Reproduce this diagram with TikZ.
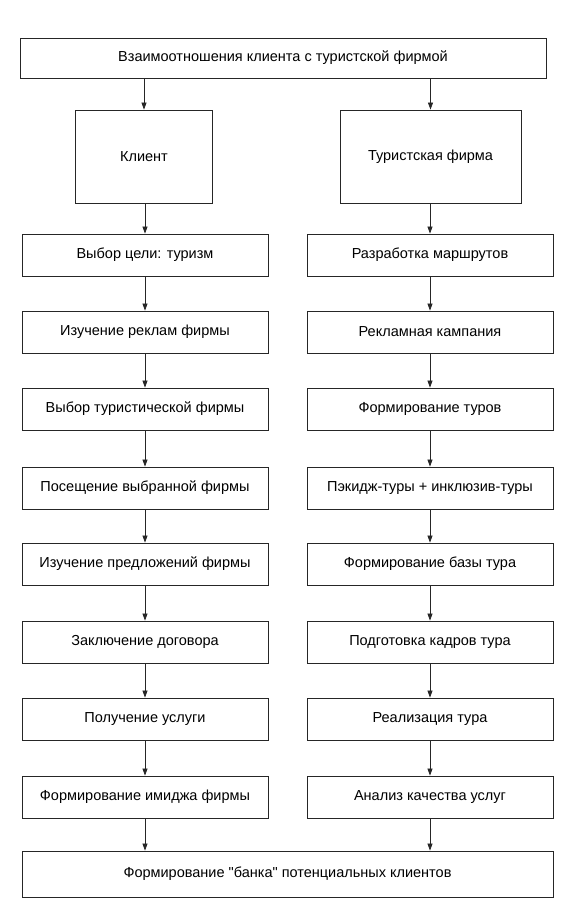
\documentclass[tikz,border=0pt]{standalone}
\usepackage{fontspec}
\setmainfont{Liberation Sans}[Ligatures=TeXOff]
\usetikzlibrary{arrows.meta}
\begin{document}
\begin{tikzpicture}[x=1pt,y=-1pt,
  box/.style={draw=black!85,line width=0.8pt,minimum height=42pt,inner sep=0pt,font=\fontsize{14.5}{17}\selectfont},
  arr/.style={draw=black!85,line width=0.7pt,-{Triangle[length=7pt,width=5pt]}}]
\useasboundingbox (0,0) rectangle (567,912);
\node[box,minimum width=526pt,minimum height=40pt] (top) at (283,58) {Взаимоотношения клиента с туристской фирмой};
\node[box,minimum width=137pt,minimum height=93pt] (kl) at (144,156.5) {Клиент};
\node[box,minimum width=181pt,minimum height=93pt] (tf) at (430.5,156.5) {Туристская фирма};
\foreach \i/\y/\lt/\rt in {
 1/255/{Выбор цели: туризм}/{Разработка маршрутов},
 2/332/{Изучение реклам фирмы}/{Рекламная кампания},
 3/409/{Выбор туристической фирмы}/{Формирование туров},
 4/488/{Посещение выбранной фирмы}/{Пэкидж-туры + инклюзив-туры},
 5/564/{Изучение предложений фирмы}/{Формирование базы тура},
 6/642/{Заключение договора}/{Подготовка кадров тура},
 7/719/{Получение услуги}/{Реализация тура},
 8/797/{Формирование имиджа фирмы}/{Анализ качества услуг}} {
  \node[box,minimum width=246pt] (l\i) at (145,\y) {\lt};
  \node[box,minimum width=246pt] (r\i) at (430,\y) {\rt};
}
\node[box,minimum width=531pt,minimum height=46pt] (bot) at (287.5,874) {Формирование "банка" потенциальных клиентов};
\draw[arr] (top.south -| kl.north) -- (kl.north);
\draw[arr] (top.south -| tf.north) -- (tf.north);
\draw[arr] (kl.south -| l1.north) -- (l1.north);
\draw[arr] (tf.south -| r1.north) -- (r1.north);
\foreach \a/\b in {1/2,2/3,3/4,4/5,5/6,6/7,7/8} {
  \draw[arr] (l\a) -- (l\b);
  \draw[arr] (r\a) -- (r\b);
}
\draw[arr] (l8.south) -- (l8.south |- bot.north);
\draw[arr] (r8.south) -- (r8.south |- bot.north);
\end{tikzpicture}
\end{document}
